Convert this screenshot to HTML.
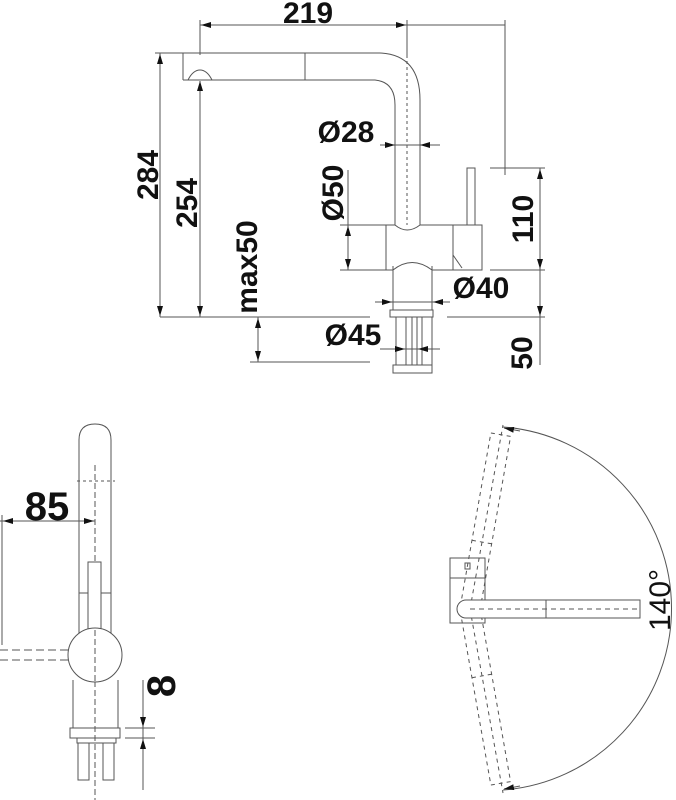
<!DOCTYPE html>
<html><head><meta charset="utf-8"><style>
html,body{margin:0;padding:0;background:#fff;}
svg{display:block;}
text{font-family:"Liberation Sans",sans-serif;font-weight:bold;fill:#111;}
</style></head><body>
<svg width="676" height="800" viewBox="0 0 676 800" xmlns="http://www.w3.org/2000/svg">
<defs>
<marker id="a" viewBox="0 0 10 6" refX="10" refY="3" markerWidth="10" markerHeight="6" orient="auto-start-reverse" markerUnits="userSpaceOnUse"><path d="M0,0 L10,3 L0,6 z" fill="#111"/></marker>
</defs>
<g stroke="#555" stroke-width="1" fill="none">
<line x1="200" y1="20" x2="200" y2="55"/>
<line x1="407" y1="20" x2="407" y2="55"/>
<line x1="505" y1="20" x2="505" y2="175"/>
<line x1="200" y1="25" x2="505" y2="25"/>
<line x1="230" y1="25" x2="201" y2="25" marker-end="url(#a)"/>
<line x1="380" y1="25" x2="406" y2="25" marker-end="url(#a)"/>
<line x1="407" y1="55" x2="407" y2="225" stroke-dasharray="3,3"/>
<path d="M183,53 L380,53 Q420,55 420,100 L420,225"/>
<path d="M183,80 L375,80 Q395,82 395,105 L395,225"/>
<line x1="183" y1="53" x2="183" y2="80"/>
<line x1="305" y1="53" x2="305" y2="80"/>
<path d="M188,80 Q193,70 200,70 Q207,70 212,80"/>
<rect x="467" y="168" width="8" height="57"/>
<path d="M386,225 L395,225 Q407,235 420,225 L482,225 L482,270 L432,270 Q412,255 393,270 L386,270 Z"/>
<line x1="453" y1="225" x2="453" y2="270"/>
<path d="M453,255 L462,268"/>
<path d="M393,266 L393,310 M432,266 L432,310"/>
<rect x="390" y="310" width="43" height="7"/>
<path d="M396,317 V365 M406,317 V365 M412,317 V365 M417,317 V365 M422,317 V365 M432,317 V365"/>
<rect x="393" y="365" width="39" height="8"/>
<line x1="160" y1="317" x2="370" y2="317"/>
<line x1="447" y1="317" x2="545" y2="317"/>
<line x1="155" y1="53" x2="183" y2="53"/>
<line x1="160" y1="53" x2="160" y2="317"/>
<line x1="160" y1="80" x2="160" y2="54" marker-end="url(#a)"/>
<line x1="160" y1="290" x2="160" y2="316" marker-end="url(#a)"/>
<line x1="200" y1="82" x2="200" y2="317"/>
<line x1="200" y1="105" x2="200" y2="81" marker-end="url(#a)"/>
<line x1="200" y1="290" x2="200" y2="316" marker-end="url(#a)"/>
<line x1="258" y1="317" x2="258" y2="362"/>
<line x1="258" y1="340" x2="258" y2="318" marker-end="url(#a)"/>
<line x1="258" y1="340" x2="258" y2="361" marker-end="url(#a)"/>
<line x1="250" y1="362" x2="370" y2="362"/>
<line x1="380" y1="145" x2="440" y2="145"/>
<line x1="380" y1="145" x2="395" y2="145" marker-end="url(#a)"/>
<line x1="440" y1="145" x2="420" y2="145" marker-end="url(#a)"/>
<line x1="348" y1="170" x2="348" y2="270"/>
<line x1="348" y1="245" x2="348" y2="226" marker-end="url(#a)"/>
<line x1="348" y1="250" x2="348" y2="269" marker-end="url(#a)"/>
<line x1="340" y1="225" x2="386" y2="225"/>
<line x1="340" y1="270" x2="386" y2="270"/>
<line x1="540" y1="168" x2="540" y2="365"/>
<line x1="490" y1="168" x2="545" y2="168"/>
<line x1="490" y1="270" x2="545" y2="270"/>
<line x1="540" y1="190" x2="540" y2="169" marker-end="url(#a)"/>
<line x1="540" y1="250" x2="540" y2="269" marker-end="url(#a)"/>
<line x1="540" y1="295" x2="540" y2="316" marker-end="url(#a)"/>
<line x1="375" y1="302" x2="450" y2="302"/>
<line x1="375" y1="302" x2="392" y2="302" marker-end="url(#a)"/>
<line x1="450" y1="302" x2="433" y2="302" marker-end="url(#a)"/>
<line x1="380" y1="349" x2="440" y2="349"/>
<line x1="380" y1="349" x2="405" y2="349" marker-end="url(#a)"/>
<line x1="440" y1="349" x2="418" y2="349" marker-end="url(#a)"/>

<path d="M79,677 L79,440 Q79,424 95,424 Q111,424 111,440 L111,677"/>
<line x1="95" y1="465" x2="95" y2="800" stroke-dasharray="6,3"/>
<line x1="77" y1="481" x2="115" y2="481" stroke-dasharray="3,3"/>
<line x1="79" y1="593" x2="111" y2="593"/>
<rect x="88" y="562" width="13" height="68" fill="#fff"/>
<circle cx="95" cy="655" r="27" fill="#fff"/>
<line x1="95" y1="630" x2="95" y2="682" stroke-dasharray="6,3"/>
<line x1="0" y1="650" x2="68" y2="650" stroke-dasharray="8,4"/>
<line x1="0" y1="660" x2="68" y2="660" stroke-dasharray="8,4"/>
<line x1="2" y1="515" x2="2" y2="645"/>
<line x1="0" y1="521" x2="95" y2="521"/>
<line x1="25" y1="521" x2="3" y2="521" marker-end="url(#a)"/>
<line x1="70" y1="521" x2="94" y2="521" marker-end="url(#a)"/>
<path d="M73,680 V728 M118,680 V728"/>
<rect x="70" y="728" width="50" height="10"/>
<rect x="77" y="738" width="39" height="5"/>
<rect x="78" y="743" width="11" height="37"/>
<rect x="103" y="743" width="11" height="37"/>
<line x1="143" y1="680" x2="143" y2="790"/>
<line x1="143" y1="700" x2="143" y2="727" marker-end="url(#a)"/>
<line x1="143" y1="765" x2="143" y2="739" marker-end="url(#a)"/>
<line x1="125" y1="728" x2="155" y2="728"/>
<line x1="125" y1="738" x2="155" y2="738"/>

<path d="M503,427 A182,182 0 0 1 503,790"/>
<line x1="520" y1="431" x2="504" y2="428" marker-end="url(#a)"/>
<line x1="520" y1="786" x2="504" y2="789" marker-end="url(#a)"/>
<g stroke-dasharray="4,4">
<line x1="470" y1="609" x2="503" y2="425"/>
<line x1="470" y1="609" x2="503" y2="793"/>
<g transform="rotate(10 470 609)"><rect x="460" y="432" width="20" height="180"/><line x1="460" y1="541" x2="480" y2="541"/></g>
<g transform="rotate(-10 470 609)"><rect x="460" y="606" width="20" height="180"/><line x1="460" y1="677" x2="480" y2="677"/></g>
</g>
<rect x="450" y="558" width="35" height="65" fill="none"/>
<line x1="450" y1="578" x2="485" y2="578"/>
<rect x="465" y="563" width="5" height="6"/>
<path d="M466,600 L640,600 L640,618 L466,618 A9,9 0 0 1 466,600 Z" fill="#fff"/>
<line x1="546" y1="600" x2="546" y2="618"/>
<line x1="470" y1="609" x2="640" y2="609" stroke-dasharray="5,4"/>
</g>
<text x="308" y="23" font-size="30" text-anchor="middle">219</text>
<text x="346" y="142" font-size="30" text-anchor="middle">Ø28</text>
<text x="481" y="298" font-size="30" text-anchor="middle">Ø40</text>
<text x="353" y="345" font-size="30" text-anchor="middle">Ø45</text>
<text transform="translate(158,175) rotate(-90)" font-size="30" text-anchor="middle">284</text>
<text transform="translate(197,203) rotate(-90)" font-size="30" text-anchor="middle">254</text>
<text transform="translate(257,267) rotate(-90)" font-size="30" text-anchor="middle">max50</text>
<text transform="translate(343,193) rotate(-90)" font-size="30" text-anchor="middle">Ø50</text>
<text transform="translate(533,219) rotate(-90)" font-size="30" text-anchor="middle">110</text>
<text transform="translate(532,353) rotate(-90)" font-size="30" text-anchor="middle">50</text>
<text x="47" y="520" font-size="40" text-anchor="middle">85</text>
<text transform="translate(175,686) rotate(-90)" font-size="40" text-anchor="middle">8</text>
<text transform="translate(670,600) rotate(-90)" font-size="30" style="font-weight:normal" text-anchor="middle">140°</text>
</svg>
</body></html>
